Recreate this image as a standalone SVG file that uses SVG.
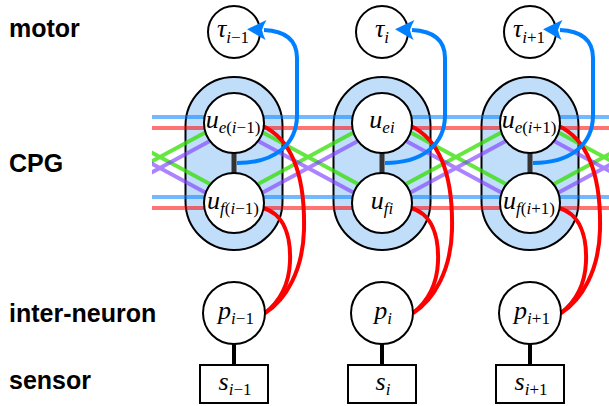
<svg xmlns="http://www.w3.org/2000/svg" width="609" height="406" viewBox="0 0 609 406">
<style>
.lbl{font-family:"Liberation Sans",Arial,sans-serif;font-weight:bold;font-size:25px;fill:#000}
.pill{fill:#c0defa;stroke:#000;stroke-width:2}
.nd{fill:#fff;stroke:#000;stroke-width:2}
.m{font-family:"Liberation Serif","DejaVu Serif",serif;font-style:italic;font-size:26px;text-anchor:middle;fill:#000}
.sub{font-size:17px}
.up{font-style:normal}
.hb{stroke:#0080ff;stroke-opacity:0.55;stroke-width:4;fill:none}
.hr{stroke:#ff0000;stroke-opacity:0.55;stroke-width:4;fill:none}
.dg{stroke:#33dd00;stroke-opacity:0.75;stroke-width:4;fill:none}
.dp{stroke:#8040ff;stroke-opacity:0.65;stroke-width:4;fill:none}
.link{stroke:#333;stroke-width:5;fill:none}
.ps{stroke:#000;stroke-width:4;fill:none}
.red{stroke:#ff0000;stroke-width:4;fill:none}
.blue{stroke:#0080ff;stroke-width:4;fill:none;marker-end:url(#arr)}
</style>
<defs>
<marker id="arr" markerUnits="userSpaceOnUse" viewBox="-4 -11 24 22" refX="0" refY="0" markerWidth="24" markerHeight="22" orient="auto" overflow="visible">
<path d="M17,0 L-2,-10 Q1,-4 2,0 Q1,4 -2,10 Z" fill="#0080ff"/>
</marker>
<clipPath id="clip"><rect x="152" y="0" width="457" height="406"/></clipPath>
</defs>

<text class="lbl" x="9" y="37">motor</text>
<text class="lbl" x="9" y="172">CPG</text>
<text class="lbl" x="9" y="322">inter-neuron</text>
<text class="lbl" x="9" y="389">sensor</text>

<g id="cpg-im1"><rect class="pill" x="185.5" y="77" width="97" height="173" rx="48.5"/></g>
<g id="cpg-i"><rect class="pill" x="333.5" y="77" width="97" height="173" rx="48.5"/></g>
<g id="cpg-ip1"><rect class="pill" x="481.5" y="77" width="97" height="173" rx="48.5"/></g>

<g id="tau-im1"><circle class="nd" cx="234" cy="32" r="26"/><text class="m" x="233" y="37">τ<tspan class="sub" dy="6">i<tspan class="up">−1</tspan></tspan></text></g>
<g id="tau-i"><circle class="nd" cx="382" cy="32" r="26"/><text class="m" x="382" y="37">τ<tspan class="sub" dy="6">i</tspan></text></g>
<g id="tau-ip1"><circle class="nd" cx="530" cy="32" r="26"/><text class="m" x="529" y="37">τ<tspan class="sub" dy="6">i<tspan class="up">+1</tspan></tspan></text></g>

<g id="connectors">
<path class="hb" d="M152,117 H609 M152,197 H609"/>
<path class="hr" d="M152,128 H609 M152,208 H609"/>
<g clip-path="url(#clip)">
<path class="dg" d="M86,117 L234,197 M86,197 L234,117 M234,117 L382,197 M234,197 L382,117 M382,117 L530,197 M382,197 L530,117 M530,117 L678,197 M530,197 L678,117"/>
<path class="dp" d="M86,128 L234,208 M86,208 L234,128 M234,128 L382,208 M234,208 L382,128 M382,128 L530,208 M382,208 L530,128 M530,128 L678,208 M530,208 L678,128"/>
</g>
<path class="link" d="M234,150 V176 M382,150 V176 M530,150 V176"/>
<path class="ps" d="M234,344 V365 M382,344 V365 M530,344 V365"/>
<path class="red" d="M263,126 C296,142 305,185 304,230 C303,270 286,300 265,313"/>
<path class="red" d="M263,208 C284,214 291,236 290,262 C289,285 279,302 265,313"/>
<path class="red" d="M411,126 C444,142 453,185 452,230 C451,270 434,300 413,313"/>
<path class="red" d="M411,208 C432,214 439,236 438,262 C437,285 427,302 413,313"/>
<path class="red" d="M559,126 C592,142 601,185 600,230 C599,270 582,300 561,313"/>
<path class="red" d="M559,208 C580,214 587,236 586,262 C585,285 575,302 561,313"/>
<path class="blue" d="M237,163 C274,163 297,145 297,115 L297,58 C297,40 286,31 264,30"/>
<path class="blue" d="M385,163 C422,163 445,145 445,115 L445,58 C445,40 434,31 412,30"/>
<path class="blue" d="M533,163 C570,163 593,145 593,115 L593,58 C593,40 582,31 560,30"/>
</g>

<g id="ue-im1"><circle class="nd" cx="234" cy="123" r="30"/><text class="m" x="233" y="128">u<tspan class="sub" dy="5">e<tspan class="up">(</tspan>i<tspan class="up">−1)</tspan></tspan></text></g>
<g id="ue-i"><circle class="nd" cx="382" cy="123" r="30"/><text class="m" x="382" y="128">u<tspan class="sub" dy="5">ei</tspan></text></g>
<g id="ue-ip1"><circle class="nd" cx="530" cy="123" r="30"/><text class="m" x="529" y="128">u<tspan class="sub" dy="5">e<tspan class="up">(</tspan>i<tspan class="up">+1)</tspan></tspan></text></g>

<g id="uf-im1"><circle class="nd" cx="234" cy="203" r="30"/><text class="m" x="233" y="209">u<tspan class="sub" dy="5">f<tspan class="up">(</tspan>i<tspan class="up">−1)</tspan></tspan></text></g>
<g id="uf-i"><circle class="nd" cx="382" cy="203" r="30"/><text class="m" x="382" y="209">u<tspan class="sub" dy="5">fi</tspan></text></g>
<g id="uf-ip1"><circle class="nd" cx="530" cy="203" r="30"/><text class="m" x="529" y="209">u<tspan class="sub" dy="5">f<tspan class="up">(</tspan>i<tspan class="up">+1)</tspan></tspan></text></g>

<g id="p-im1"><circle class="nd" cx="234" cy="313" r="31"/><text class="m" x="236" y="319">p<tspan class="sub" dy="5">i<tspan class="up">−1</tspan></tspan></text></g>
<g id="p-i"><circle class="nd" cx="382" cy="313" r="31"/><text class="m" x="383" y="319">p<tspan class="sub" dy="5">i</tspan></text></g>
<g id="p-ip1"><circle class="nd" cx="530" cy="313" r="31"/><text class="m" x="532" y="319">p<tspan class="sub" dy="5">i<tspan class="up">+1</tspan></tspan></text></g>

<g id="s-im1"><rect class="nd" x="200" y="365" width="68" height="38"/><text class="m" x="235" y="390">s<tspan class="sub" dy="5">i<tspan class="up">−1</tspan></tspan></text></g>
<g id="s-i"><rect class="nd" x="348" y="365" width="68" height="38"/><text class="m" x="383" y="390">s<tspan class="sub" dy="5">i</tspan></text></g>
<g id="s-ip1"><rect class="nd" x="496" y="365" width="68" height="38"/><text class="m" x="531" y="390">s<tspan class="sub" dy="5">i<tspan class="up">+1</tspan></tspan></text></g>
</svg>
